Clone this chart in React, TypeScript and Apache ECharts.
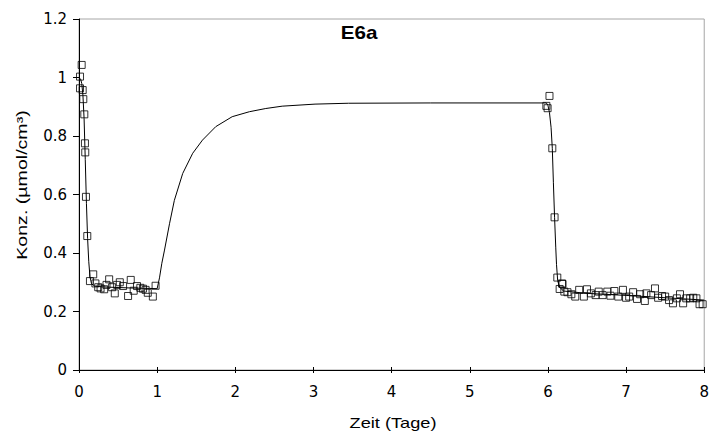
import React, { useEffect, useRef } from "react";
import * as echarts from "echarts";

const title = "E6a";
const xName = "Zeit (Tage)";
const yName = "Konz. (µmol/cm³)";

// measured points [day, concentration]
const pointsPhase1: [number, number][] = [
  [0.034, 1.043], [0.013, 1.003], [0.013, 0.963], [0.047, 0.957], [0.055, 0.926],
  [0.068, 0.874], [0.076, 0.775], [0.08, 0.744], [0.089, 0.592], [0.106, 0.458],
  [0.182, 0.327], [0.14, 0.304], [0.21, 0.296], [0.246, 0.283], [0.276, 0.279],
  [0.322, 0.276], [0.352, 0.291], [0.386, 0.31], [0.424, 0.283], [0.458, 0.262],
  [0.488, 0.291], [0.522, 0.3], [0.564, 0.287], [0.628, 0.253], [0.662, 0.308],
  [0.7, 0.271], [0.742, 0.287], [0.785, 0.281], [0.818, 0.278], [0.852, 0.274],
  [0.88, 0.264], [0.945, 0.251], [0.98, 0.288],
];

const pointsPhase2: [number, number][] = [
  [6.02, 0.937], [5.98, 0.903], [5.996, 0.895], [6.056, 0.758], [6.085, 0.522],
  [6.12, 0.316], [6.187, 0.294], [6.15, 0.277], [6.18, 0.296], [6.21, 0.268],
  [6.25, 0.266], [6.3, 0.259], [6.35, 0.251], [6.4, 0.274], [6.46, 0.251],
  [6.5, 0.276], [6.55, 0.262], [6.61, 0.256], [6.65, 0.268], [6.7, 0.256],
  [6.76, 0.268], [6.8, 0.254], [6.85, 0.27], [6.9, 0.251], [6.96, 0.274],
  [7.0, 0.247], [7.04, 0.251], [7.09, 0.266], [7.14, 0.243], [7.18, 0.259],
  [7.24, 0.236], [7.26, 0.262], [7.32, 0.256], [7.37, 0.279], [7.41, 0.247],
  [7.46, 0.253], [7.5, 0.251], [7.55, 0.239], [7.6, 0.228], [7.65, 0.245],
  [7.69, 0.259], [7.73, 0.228], [7.77, 0.245], [7.82, 0.245], [7.86, 0.247],
  [7.9, 0.245], [7.94, 0.225], [7.98, 0.225],
];

// model curve [day, concentration]
const modelCurve: [number, number][] = [
  [0, 1.0], [0.02, 0.995], [0.035, 0.98], [0.05, 0.94], [0.065, 0.86],
  [0.08, 0.72], [0.095, 0.57], [0.11, 0.45], [0.125, 0.37], [0.14, 0.32],
  [0.16, 0.295], [0.2, 0.287], [0.3, 0.284], [0.5, 0.282], [0.7, 0.28],
  [0.9, 0.279], [1.0, 0.278],
  [1.03, 0.315], [1.06, 0.365], [1.094, 0.41], [1.158, 0.5], [1.22, 0.58],
  [1.327, 0.672], [1.455, 0.741], [1.58, 0.786], [1.75, 0.832], [1.96, 0.866],
  [2.18, 0.883], [2.39, 0.894], [2.6, 0.902], [3.02, 0.909], [3.45, 0.912],
  [4.5, 0.913], [5.98, 0.913],
  [6.0, 0.905], [6.02, 0.88], [6.04, 0.83], [6.056, 0.758], [6.07, 0.64],
  [6.085, 0.522], [6.1, 0.42], [6.11, 0.36], [6.125, 0.305], [6.15, 0.283],
  [6.2, 0.27], [6.5, 0.262], [7.0, 0.255], [7.5, 0.247], [8.0, 0.239],
];

const FONT = "Liberation Sans, Arial, sans-serif";
const TICK_FONT = "DejaVu Sans, Liberation Sans, sans-serif";

export default function App() {
  const ref = useRef<HTMLDivElement>(null);
  useEffect(() => {
    if (!ref.current) return;
    const chart = echarts.init(ref.current, undefined, { renderer: "svg" });
    chart.setOption({
      animation: false,
      backgroundColor: "#ffffff",
      textStyle: { fontFamily: FONT, color: "#000" },
      graphic: [
        {
          type: "text",
          x: 359,
          y: 33,
          scaleX: 1.18,
          style: {
            text: title,
            fontFamily: FONT,
            fontSize: 17.5,
            fontWeight: "bold",
            fill: "#000",
            align: "center",
            verticalAlign: "middle",
          },
        },
        {
          type: "text",
          x: 393,
          y: 423,
          scaleX: 1.3,
          style: {
            text: xName,
            fontFamily: FONT,
            fontSize: 14,
            fill: "#000",
            align: "center",
            verticalAlign: "middle",
          },
        },
        {
          type: "text",
          x: 22,
          y: 185,
          rotation: Math.PI / 2,
          scaleX: 1.4,
          style: {
            text: yName,
            fontFamily: FONT,
            fontSize: 14,
            fill: "#000",
            align: "center",
            verticalAlign: "middle",
          },
        },
      ],
      grid: {
        left: 79,
        right: 4,
        top: 19,
        bottom: 69,
        show: true,
        borderColor: "#a6a6a6",
        borderWidth: 1,
        backgroundColor: "transparent",
      },
      xAxis: [
        {
          type: "value",
          min: 0,
          max: 8,
          interval: 1,
          axisLine: { lineStyle: { color: "#000", width: 1 } },
          axisTick: { show: true, inside: false, length: 3, lineStyle: { color: "#000" } },
          axisLabel: { fontFamily: TICK_FONT, fontSize: 15, color: "#000", margin: 14 },
          splitLine: { show: false },
        },
        {
          type: "value",
          min: 0,
          max: 8,
          interval: 1,
          position: "bottom",
          axisLine: { show: false },
          axisTick: { show: true, inside: true, length: 3, lineStyle: { color: "#000" } },
          axisLabel: { show: false },
          splitLine: { show: false },
        },
      ],
      yAxis: {
        type: "value",
        min: 0,
        max: 1.2,
        interval: 0.2,
        axisLine: { show: true, lineStyle: { color: "#000", width: 1 } },
        axisTick: { show: true, inside: false, length: 6, lineStyle: { color: "#000" } },
        axisLabel: { fontFamily: TICK_FONT, fontSize: 15, color: "#000", margin: 12 },
        splitLine: { show: false },
      },
      series: [
        {
          type: "line",
          data: modelCurve,
          showSymbol: false,
          symbol: "none",
          lineStyle: { color: "#000", width: 1 },
          z: 3,
        },
        {
          type: "scatter",
          data: pointsPhase1,
          symbol: "rect",
          symbolSize: 7,
          clip: false,
          itemStyle: { color: "rgba(0,0,0,0)", borderColor: "#000", borderWidth: 1 },
          z: 4,
        },
        {
          type: "scatter",
          data: pointsPhase2,
          symbol: "rect",
          symbolSize: 7,
          clip: false,
          itemStyle: { color: "rgba(0,0,0,0)", borderColor: "#000", borderWidth: 1 },
          z: 4,
        },
      ],
    });
    return () => chart.dispose();
  }, []);
  return (
    <div
      ref={ref}
      style={{ position: "fixed", left: 0, top: 0, width: 712, height: 439, background: "#fff" }}
    />
  );
}
